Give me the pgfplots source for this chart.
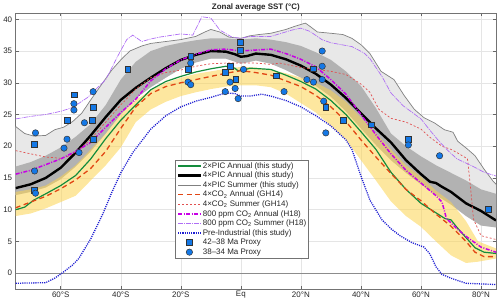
\documentclass[border=0pt]{standalone}
\usepackage{fontspec}
\setmainfont{Liberation Sans}
\usepackage{pgfplots}
\usepackage{pgfplotstable}
\usepgfplotslibrary{fillbetween}
\pgfplotsset{compat=1.18}

\definecolor{cgreen}{RGB}{20,140,60}
\definecolor{cred}{RGB}{225,70,20}
\definecolor{cred2}{RGB}{225,80,80}
\definecolor{cpurple}{RGB}{200,0,230}
\definecolor{cpurple2}{RGB}{175,110,245}
\definecolor{cblue}{RGB}{30,30,210}
\definecolor{cmark}{RGB}{20,120,230}
\definecolor{cyellow}{RGB}{252,212,80}
\definecolor{axcol}{RGB}{38,38,38}

% 4xPIC annual range (dark gray band)
\pgfplotstableread{
lat lo hi
-75 12.3 16.8
-70 12.8 17.5
-65 13.5 18.5
-60 14.8 19.8
-55 16.8 21.5
-50 19.2 23.5
-45 22.0 26.5
-40 25.0 30.5
-35 27.5 33.3
-30 29.3 35.0
-25 30.8 35.8
-20 32.2 36.3
-15 33.2 36.7
-10 33.8 37.0
-5 33.8 37.0
0 33.0 36.8
5 33.5 37.0
10 33.0 36.8
15 32.0 36.4
20 30.8 35.8
25 29.5 34.8
30 27.8 33.6
35 25.5 31.8
40 22.8 29.5
45 20.2 26.0
50 17.8 22.0
55 15.8 20.0
60 14.0 18.4
65 12.3 17.0
70 10.8 15.8
75 9.0 14.6
80 7.5 13.2
85 7.2 12.5
}\tabDark

% GH14 range (yellow band)
\pgfplotstableread{
lat lo hi
-75 9.0 12.8
-70 9.4 13.2
-65 10.2 13.8
-60 11.2 15.2
-55 12.2 17.0
-50 14.6 19.5
-45 17.0 22.0
-40 19.8 25.0
-35 23.8 27.3
-30 25.8 28.8
-25 27.0 30.0
-20 27.9 30.8
-15 28.5 31.4
-10 29.0 31.8
-5 29.4 32.2
0 29.6 32.5
5 29.6 32.4
10 29.3 32.0
15 28.3 31.5
20 26.8 30.8
25 25.3 30.0
30 23.2 28.8
35 21.0 27.0
40 17.8 24.5
45 14.6 22.0
50 11.3 19.5
55 9.0 17.0
60 7.3 15.2
65 5.0 13.0
70 2.8 11.2
75 1.6 8.2
79 1.8 5.0
85 2.3 3.9
}\tabYellow

% 4xPIC summer
\pgfplotstableread{
lat T
-75 23.1
-72 22.0
-69 21.6
-65 21.7
-62 22.6
-59 23.0
-56 23.9
-53 25.2
-50 27.3
-46 30.0
-43 32.0
-40 33.6
-37 35.0
-33 35.8
-30 36.2
-25 36.5
-20 36.8
-15 37.3
-12 38.0
-10 38.4
-7 38.0
-4 37.2
0 37.0
3 37.4
6 37.6
10 37.8
15 38.4
18 38.9
21.5 39.4
23 38.9
25.5 38.0
30 37.8
34 37.6
37 37.0
40 36.0
43 34.6
46.7 31.8
51 30.5
54.4 28.0
57.8 25.8
61 24.5
64.4 23.7
67.8 22.6
70.7 22.2
72.2 20.8
75.6 19.5
78 18.5
81 16.4
84 14.5
85 14.0
}\tabPICsum

\pgfplotstableread{
lat T
-75 10.0
-72 10.4
-69 11.5
-65 12.5
-60 13.8
-55 15.4
-50 18.0
-45 21.2
-40 24.1
-35 26.5
-30 28.9
-25 30.2
-20 31.0
-15 31.7
-10 32.2
-5 32.6
-2 32.3
-1 31.9
1 32.0
3 32.3
10 32.1
15 31.2
20 30.2
25 29.0
30 27.2
35 25.0
40 22.3
45 19.5
50 15.9
55 13.2
60 11.0
65 9.5
68 8.6
70 8.4
72 7.2
75 5.6
78 4.0
81 3.3
85 3.1
}\tabGreen

\pgfplotstableread{
lat T
-75 13.4
-70 14.0
-65 15.0
-60 16.6
-55 19.0
-50 21.7
-45 24.6
-40 27.3
-35 29.2
-30 30.8
-25 32.3
-20 33.6
-15 34.4
-10 35.0
-5 34.9
-2 34.5
0 34.1
2 34.2
5 34.6
10 34.4
15 33.7
20 32.7
25 31.4
30 29.7
35 27.6
40 25.2
45 22.8
50 20.6
55 17.8
60 15.6
63 14.4
65 14.2
67 13.6
70 12.8
75 11.0
80 9.8
85 8.3
}\tabBlack

\pgfplotstableread{
lat T
-75 10.3
-70 11.2
-65 12.1
-60 13.3
-55 14.7
-50 16.5
-45 19.2
-40 22.8
-35 26.2
-30 28.3
-25 29.4
-20 30.0
-15 30.5
-10 31.0
-5 31.5
0 31.9
5 31.6
10 31.2
15 30.3
20 29.4
25 28.0
30 26.2
35 23.9
40 21.0
45 18.3
50 15.7
55 13.2
60 11.4
65 9.3
70 7.4
75 5.0
78 3.3
81 2.6
85 2.6
}\tabRed

\pgfplotstableread{
lat T
-75 19.3
-70 18.8
-65 18.3
-60 18.1
-57 18.5
-53 19.8
-50 21.1
-45 23.8
-40 26.5
-35 29.0
-30 30.8
-25 31.6
-20 32.0
-15 32.6
-10 33.0
-5 33.1
0 33.1
5 33.1
10 32.9
13 33.1
20 32.4
25 32.1
30 31.8
35 31.3
40 29.8
43 28.5
46 25.8
50 24.4
55 23.8
60 22.7
63 21.4
67 20.0
70 19.5
72 19.0
75.5 18.0
76.5 13.5
77.5 8.5
80 5.9
85 5.3
}\tabRedSum

\pgfplotstableread{
lat T
-75 15.6
-70 16.2
-65 17.1
-60 18.0
-55 19.2
-50 20.6
-45 23.0
-40 25.3
-35 27.4
-30 30.3
-25 32.2
-20 33.6
-15 34.5
-10 35.2
-5 35.3
0 35.0
3 35.1
10 35.3
15 34.6
20 33.7
25 32.5
30 30.5
35 28.2
40 25.0
45 21.8
50 18.8
55 16.2
60 14.2
65 12.2
67 11.2
68.5 8.6
72 7.0
75 5.8
80 4.1
85 3.3
}\tabPurple

\pgfplotstableread{
lat T
-75 24.3
-70 24.7
-65 25.0
-60 25.5
-56 26.1
-51 27.7
-45 30.5
-41 34.2
-38 36.8
-36 37.5
-33 36.5
-30 36.9
-27 37.2
-20 37.7
-16 37.5
-13 40.4
-10 40.2
-7 38.3
-3 37.2
0 37.0
3 37.3
10 37.3
17 38.3
20 38.6
23 38.1
27 36.8
30 36.3
37 35.7
41 34.7
43 33.8
47 31.0
50 28.4
54 26.4
60 24.3
63 22.5
66 20.8
69 19.3
72 18.0
77 16.9
81 15.9
85 15.3
}\tabPurpleSum

\pgfplotstableread{
lat T
-75 -1.6
-65 -1.5
-62 -0.8
-59 0.2
-56 1.3
-54 2.3
-50 5.4
-46 9.3
-43 12.7
-40 15.8
-36 19.0
-30 22.7
-25 24.8
-20 26.2
-15 27.1
-10 27.7
-5 28.4
-2 28.3
0 27.9
3 27.9
7 28.2
10 27.9
15 27.2
20 26.2
25 24.8
30 23.2
35 21.0
37 19.5
40 15.3
43 11.5
47 8.4
50 7.0
53 5.9
57 4.8
61 4.1
63 3.0
65 1.0
67 -0.2
70 -0.8
75 -1.6
85 -1.8
}\tabPI

\pgfplotstableread{
lat T
-68.7 20.3
-68.7 13.0
-57.9 24.1
-55.6 28.1
-49.2 26.1
-49.6 24.1
-49.2 21.1
-37.7 32.1
-16.7 34.2
-17.6 32.1
-3.6 32.6
-5.2 31.6
-1.7 30.5
-0.2 36.4
-0.2 35.1
11.7 31.1
24.2 32.2
28.3 26.1
34.1 24.1
43.5 23.4
55.8 21.1
82.4 10.1
}\tabSq

\pgfplotstableread{
lat T
-68.4 22.1
-57.9 21.1
-58.9 19.7
-55.6 26.7
-55.6 25.7
-52.1 23.7
-49.2 28.6
-53.9 19.0
-68.7 16.1
-68.4 12.6
-16.7 33.1
-17.6 30.1
-16.7 29.7
-3.6 30.1
-5.2 28.6
-1.9 29.1
-0.9 27.5
0.9 32.1
14.4 28.6
22.0 30.5
24.2 30.1
27.1 35.0
27.1 32.6
27.1 30.5
27.6 27.1
28.3 22.1
55.8 20.2
66.2 18.5
}\tabCi

\begin{document}
\begin{tikzpicture}
\begin{axis}[
  at={(0,0)}, anchor=south west,
  scale only axis, width=482bp, height=277bp,
  xmin=-75, xmax=85, ymin=-2.5, ymax=41,
  xtick={-60,-40,-20,0,20,40,60,80},
  xticklabels={60°S,40°S,20°S,Eq,20°N,40°N,60°N,80°N},
  ytick={0,5,...,40},
  /pgf/number format/assume math mode=true,
  tick label style={font=\fontsize{8bp}{9bp}\selectfont, text=axcol},
  xticklabel style={yshift=1bp},
  grid=major,
  major grid style={black!10, line width=0.4bp},
  axis line style={black!55, line width=0.5bp},
  tick style={black!60, line width=0.5bp},
  tick align=inside, major tick length=3.5bp,
  title={Zonal average SST (°C)},
  title style={font=\fontsize{8bp}{9bp}\selectfont\bfseries, text=axcol, yshift=-8bp},
  legend style={at={(rel axis cs:0.332,0.469)}, anchor=north west,
    draw=black!55, line width=0.5bp, fill=white,
    font=\fontsize{8bp}{9bp}\selectfont, text=axcol,
    inner sep=1.5bp, row sep=0pt,
    nodes={inner sep=1bp, text height=6bp, text depth=1.6bp}},
  legend cell align=left,
  legend image code/.code={\draw[mark repeat=2,mark phase=2,#1] plot coordinates {(0cm,0cm) (0.4cm,0cm) (0.8cm,0cm)};},
]
% bands
\addplot[name path=lgU, draw=none, forget plot] table[x=lat,y=T] {\tabPICsum};
\addplot[name path=lgL, draw=none, forget plot] table[x=lat,y=lo] {\tabDark};
\addplot[fill=black!9, draw=none, forget plot] fill between[of=lgU and lgL];
\addplot[name path=dgU, draw=none, forget plot] table[x=lat,y=hi] {\tabDark};
\addplot[name path=dgL, draw=none, forget plot] table[x=lat,y=lo] {\tabDark};
\addplot[fill=black!30, draw=none, forget plot] fill between[of=dgU and dgL];
\addplot[name path=yU, draw=none, forget plot] table[x=lat,y=hi] {\tabYellow};
\addplot[name path=yL, draw=none, forget plot] table[x=lat,y=lo] {\tabYellow};
\addplot[fill=cyellow, fill opacity=0.55, draw=none, forget plot] fill between[of=yU and yL];
% zero line
\addplot[black!45, line width=0.6bp, forget plot] coordinates {(-75,0) (85,0)};
% lines
\addplot[cgreen, line width=1.2bp] table[x=lat,y=T] {\tabGreen};
\addlegendentry{2×PIC Annual (this study)}
\addplot[black, line width=2.4bp] table[x=lat,y=T] {\tabBlack};
\addlegendentry{4×PIC Annual (this study)}
\addplot[black!50, line width=0.7bp] table[x=lat,y=T] {\tabPICsum};
\addlegendentry{4×PIC Summer (this study)}
\addplot[cred, line width=1.3bp, dash pattern=on 5bp off 3.5bp] table[x=lat,y=T] {\tabRed};
\addlegendentry{4×CO\textsubscript{2} Annual (GH14)}
\addplot[cred2, line width=0.7bp, dash pattern=on 2bp off 2bp] table[x=lat,y=T] {\tabRedSum};
\addlegendentry{4×CO\textsubscript{2} Summer (GH14)}
\addplot[cpurple, line width=1.5bp, dash pattern=on 4bp off 1.5bp on 1bp off 1.5bp] table[x=lat,y=T] {\tabPurple};
\addlegendentry{800 ppm CO\textsubscript{2} Annual (H18)}
\addplot[cpurple2, line width=0.7bp, dash pattern=on 5bp off 1bp on 1bp off 1bp] table[x=lat,y=T] {\tabPurpleSum};
\addlegendentry{800 ppm CO\textsubscript{2} Summer (H18)}
\addplot[cblue, line width=1.3bp, dash pattern=on 1.1bp off 1.1bp] table[x=lat,y=T] {\tabPI};
\addlegendentry{Pre-Industrial (this study)}
\addplot[only marks, mark=square*, mark size=2.9bp, mark options={fill=cmark, draw=black!80, line width=0.5bp}] table[x=lat,y=T] {\tabSq};
\addlegendentry{42–38 Ma Proxy}
\addplot[only marks, mark=*, mark size=3.2bp, mark options={fill=cmark, draw=black!80, line width=0.5bp}] table[x=lat,y=T] {\tabCi};
\addlegendentry{38–34 Ma Proxy}
\end{axis}
\path (-14bp,-15bp) rectangle (486bp,290bp);
\end{tikzpicture}
\end{document}
